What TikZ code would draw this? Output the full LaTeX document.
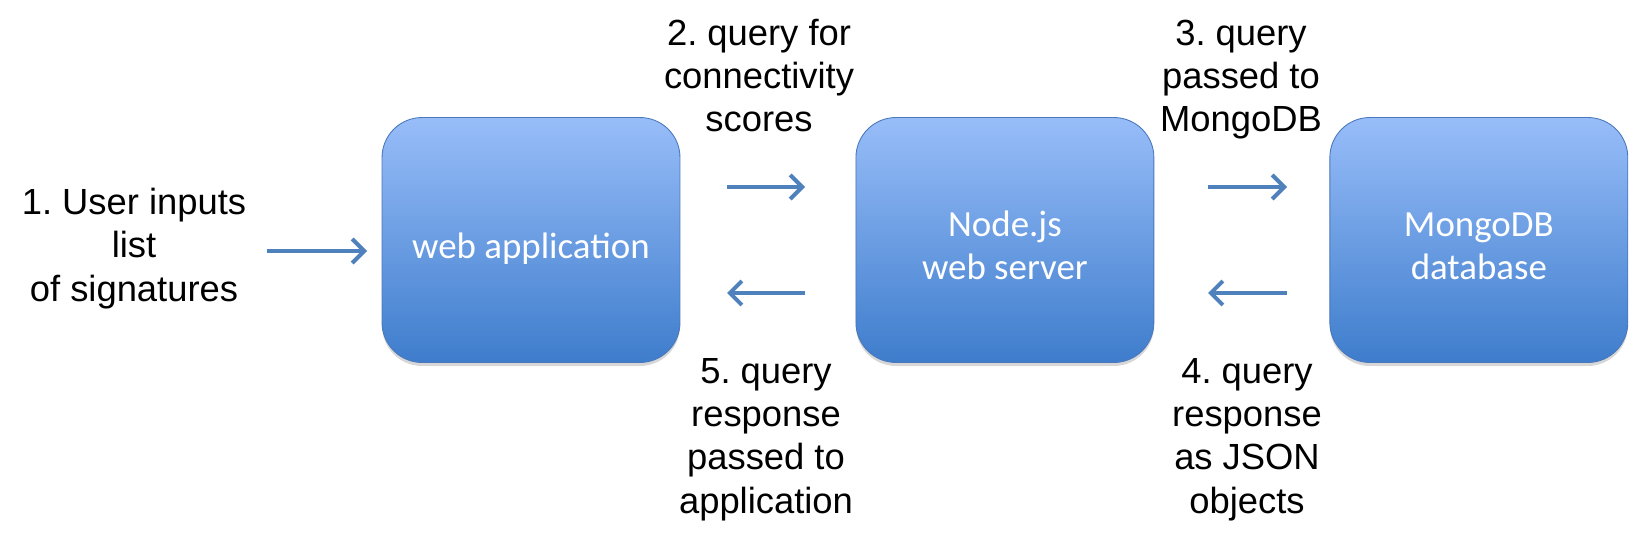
\documentclass[tikz,border=0pt]{standalone}
\usepackage{fontspec}
\setmainfont{Liberation Sans}
\newfontfamily\boxfont{Carlito}
\usetikzlibrary{positioning,arrows.meta,shadows}

\definecolor{boxtop}{RGB}{152,189,249}
\definecolor{boxbottom}{RGB}{62,125,204}
\definecolor{boxline}{RGB}{74,120,188}
\definecolor{arrowblue}{RGB}{79,129,189}

\def\boxsep{9.48cm}

\begin{document}
\frenchspacing
\begin{tikzpicture}[x=0.02cm,y=-0.02cm, node distance=\boxsep]
    \tikzstyle{box}=[draw=boxline,line width=0.5pt,rounded corners=0.8cm,
        top color=boxtop,bottom color=boxbottom,
        minimum width=5.96cm,minimum height=4.9cm,inner sep=0pt,
        text=white,align=center,text height=1.6cm,text depth=0pt,
        font=\boxfont\fontsize{21}{24.5}\selectfont,
        drop shadow={shadow xshift=0pt,shadow yshift=-0.07cm,opacity=0.35,fill=black!45}]
    \tikzstyle{annot}=[align=center,anchor=base,inner sep=0pt,
        font=\fontsize{20.7}{24.5}\selectfont]
    \tikzstyle{flow}=[draw=arrowblue,line width=2.3pt,
        -{Straight Barb[length=2.4mm,width=4.8mm]}]

    \useasboundingbox (0,0) rectangle (1635,537);

    % Draw the three boxes.
    \node[box, text height=0.75cm] (webapp) at (531,240) {web application};
    \node[box, right of=webapp] (server) {Node.js\\web server};
    \node[box, right of=server] (mongo) {MongoDB\\database};

    % Arrow end points
    \foreach \name/\xa/\xb/\y in {in/267/367/251, q2/727/805/187, q5/805/727/293,
                                  q3/1208/1287/187, q4/1287/1208/293} {
        \coordinate (\name-s) at (\xa,\y);
        \coordinate (\name-e) at (\xb,\y);
    }

    % Draw the arrows.
    \foreach \name in {in,q2,q3,q4,q5}
        \draw[flow] (\name-s) -- (\name-e);

    % Annotate the steps (anchored at the last line).
    \node[annot] (step-1) at (134,301) {1. User inputs\\list\\of signatures};
    \node[annot] (step-2) at (759,132) {2. query for\\connectivity\\scores};
    \node[annot] (step-3) at (1241,132) {3. query\\passed to\\MongoDB};
    \node[annot] (step-4) at (1247,513) {4. query\\response\\as JSON\\objects};
    \node[annot] (step-5) at (766,513) {5. query\\response\\passed to\\application};
\end{tikzpicture}
\end{document}
